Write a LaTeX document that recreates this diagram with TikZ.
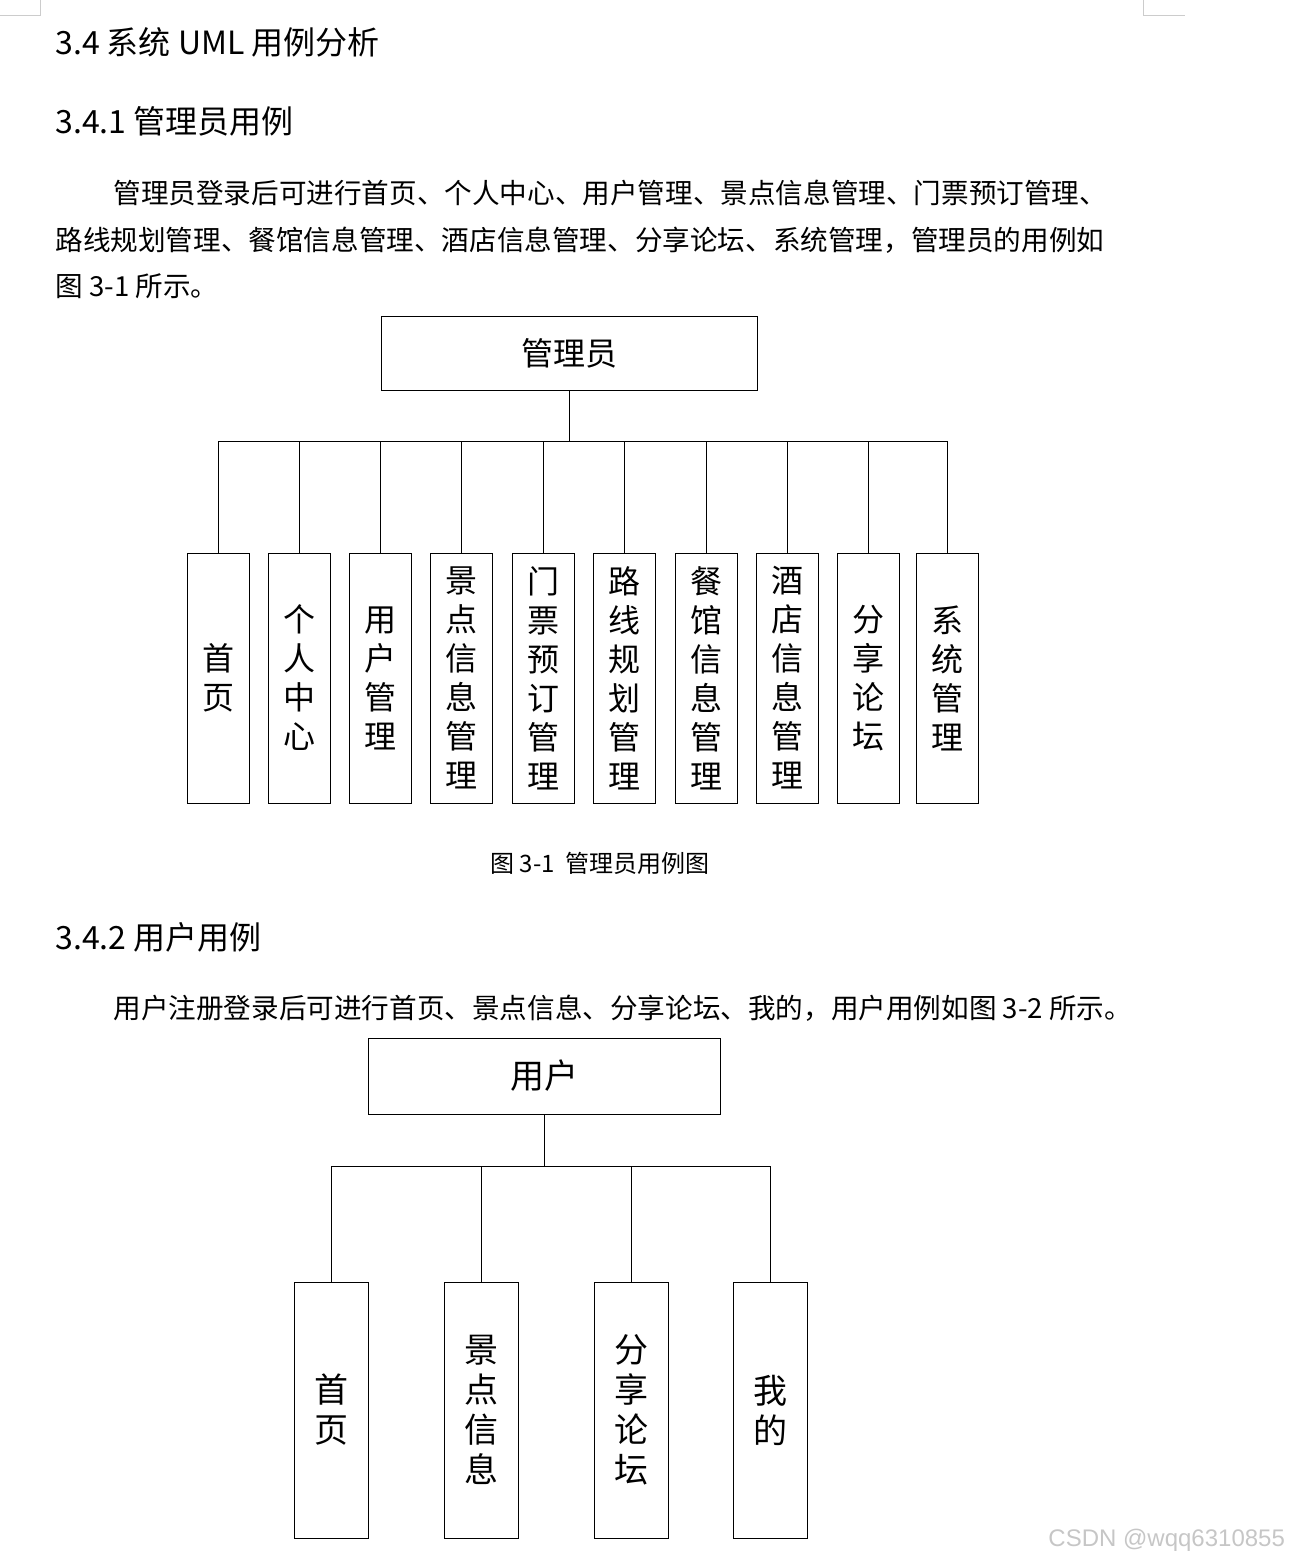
\documentclass[tikz,border=0pt]{standalone}
\usepackage{fontspec}
\setmainfont{Noto Sans CJK SC}
\newfontfamily\wmfont{Liberation Sans}
\begin{document}
\begin{tikzpicture}[x=0.5pt,y=-0.5pt,
    actor/.style={draw,thin,minimum width=188pt,minimum height=37pt,font=\fontsize{16}{19}\selectfont},
    caseA/.style={draw,thin,minimum width=31pt,minimum height=125pt,align=center,inner sep=0pt,font=\fontsize{16}{19.5}\selectfont},
    caseU/.style={draw,thin,minimum width=37pt,minimum height=128pt,align=center,inner sep=0pt,font=\fontsize{17}{20}\selectfont},
    heading/.style={anchor=west,inner sep=0pt,font=\fontsize{16}{18}\selectfont},
    body/.style={anchor=west,inner sep=0pt,font=\fontsize{13.8}{16}\selectfont}]
    \useasboundingbox (0,0) rectangle (1294,1562);
    % 页角标记
    \draw[gray!40] (40,0) -- (40,15) -- (0,15);
    \draw[gray!40] (1143,0) -- (1143,15) -- (1185,15);

    % 标题与正文
    \node[heading] (h1) at (55,42) {3.4 系统 UML 用例分析};
    \node[heading] (h2) at (55,121) {3.4.1 管理员用例};
    \node[body] (p1) at (113,193) {管理员登录后可进行首页、个人中心、用户管理、景点信息管理、门票预订管理、};
    \node[body] (p2) at (55,240) {路线规划管理、餐馆信息管理、酒店信息管理、分享论坛、系统管理，管理员的用例如};
    \node[body] (p3) at (55,286) {图 3-1 所示。};

    % 管理员用例图
    \node[actor] (admin) at (569,353) {管理员};
    \coordinate (abus) at (569,441);
    \draw (admin) -- (abus);
    \foreach \i/\x/\t in {1/218/{首\\页},2/299/{个\\人\\中\\心},3/380/{用\\户\\管\\理},
        4/461/{景\\点\\信\\息\\管\\理},5/543/{门\\票\\预\\订\\管\\理},6/624/{路\\线\\规\\划\\管\\理},
        7/706/{餐\\馆\\信\\息\\管\\理},8/787/{酒\\店\\信\\息\\管\\理},9/868/{分\\享\\论\\坛},10/947/{系\\统\\管\\理}}{
        \node[caseA] (a\i) at (\x,678) {\t};
        \draw (abus) -| (a\i.north);
    }
    \node[font=\fontsize{12}{14}\selectfont] (cap) at (600,863) {图 3-1\ \ 管理员用例图};

    \node[heading] (h3) at (55,937) {3.4.2 用户用例};
    \node[body] (p4) at (113,1008) {用户注册登录后可进行首页、景点信息、分享论坛、我的，用户用例如图 3-2 所示。};

    % 用户用例图
    \node[actor,minimum width=176pt,minimum height=38pt,font=\fontsize{17}{20}\selectfont] (user) at (544,1076) {用户};
    \coordinate (ubus) at (544,1166);
    \draw (user) -- (ubus);
    \foreach \i/\x/\t in {1/331/{首\\页},2/481/{景\\点\\信\\息},3/631/{分\\享\\论\\坛},4/770/{我\\的}}{
        \node[caseU] (u\i) at (\x,1410) {\t};
        \draw (ubus) -| (u\i.north);
    }

    % 水印
    \node[anchor=east,text=gray!45,font=\wmfont\fontsize{12}{14}\selectfont] (wm) at (1292,1540) {CSDN @wqq6310855};
\end{tikzpicture}
\end{document}
